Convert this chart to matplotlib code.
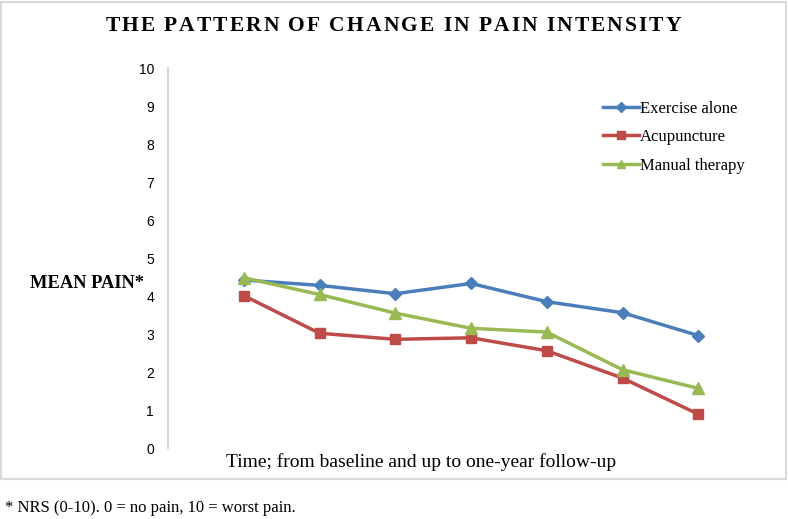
import matplotlib
matplotlib.use("Agg")
import matplotlib.pyplot as plt
from matplotlib.patches import Rectangle

# Data (NRS mean pain at 7 time points)
TIME_POINTS = [1, 2, 3, 4, 5, 6, 7]
EXERCISE = [4.42, 4.28, 4.06, 4.33, 3.85, 3.56, 2.96]
ACUPUNCTURE = [4.01, 3.02, 2.86, 2.90, 2.56, 1.84, 0.89]
MANUAL = [4.48, 4.04, 3.55, 3.15, 3.05, 2.06, 1.57]
SERIES_NAMES = ["Exercise alone", "Acupuncture", "Manual therapy"]
Y_TICKS = list(range(0, 11))
TITLE = "THE PATTERN OF CHANGE IN PAIN INTENSITY"

BLUE = "#4a7ebb"
RED = "#be4b48"
GREEN = "#98b954"
SERIF = "Liberation Serif"
SANS = "Liberation Sans"

fig = plt.figure(figsize=(7.88, 5.19), dpi=100)
ax = fig.add_axes([168 / 788, 1 - 448 / 519, 606 / 788, 380 / 519])

# light grey frame around the chart area
fig.patches.append(Rectangle((1 / 788, 1 - 479 / 519), 785 / 788, 477 / 519,
                             transform=fig.transFigure, fill=False,
                             edgecolor="#d9d9d9", linewidth=1.5))

ax.plot(TIME_POINTS, EXERCISE, color=BLUE, lw=2.5, marker="D", ms=6,
        label=SERIES_NAMES[0])
ax.plot(TIME_POINTS, ACUPUNCTURE, color=RED, lw=2.5, marker="s", ms=7,
        label=SERIES_NAMES[1])
ax.plot(TIME_POINTS, MANUAL, color=GREEN, lw=2.5, marker="^", ms=8,
        label=SERIES_NAMES[2])

ax.set_xlim(0, 8)
ax.set_ylim(0, 10)
ax.set_yticks(Y_TICKS)
ax.set_xticks([])
for lab in ax.get_yticklabels():
    lab.set_fontfamily(SANS)
    lab.set_fontsize(10)
ax.tick_params(axis="y", length=0, pad=10, colors="#000000")
for side in ["top", "right", "bottom"]:
    ax.spines[side].set_visible(False)
ax.spines["left"].set_color("#d9d9d9")
ax.spines["left"].set_linewidth(1.5)

leg = ax.legend(loc="upper left", frameon=False,
                prop={"family": SERIF, "size": 12},
                handlelength=2.2, handletextpad=0.05, labelspacing=0.75,
                borderaxespad=0, markerscale=0.8)
leg.set_bbox_to_anchor((596 / 788, 1 - 94 / 519), transform=fig.transFigure)

# title drawn letter by letter to get the wide letter spacing
fig.canvas.draw()
renderer = fig.canvas.get_renderer()
title_parts = []
for ch in TITLE:
    t = fig.text(0, 1 - 26 / 519, ch, ha="left", va="center", fontsize=15.5,
                 fontweight="bold", family=SERIF)
    title_parts.append(t)
gap = 2.0
widths = []
for t in title_parts:
    bb = t.get_window_extent(renderer)
    widths.append(bb.width if t.get_text() != " " else 5.5)
total = sum(widths) + gap * (len(widths) - 1)
x = 393 - total / 2
for t, w in zip(title_parts, widths):
    t.set_x(x / 788)
    x += w + gap

fig.text(30 / 788, 1 - 283 / 519, "MEAN PAIN*", ha="left", va="center",
         fontsize=13.3, fontweight="bold", family=SERIF)
fig.text(421 / 788, 1 - 462 / 519,
         "Time; from baseline and up to one-year follow-up",
         ha="center", va="center", fontsize=14, family=SERIF)
fig.text(5 / 788, 1 - 508 / 519, "* NRS (0-10). 0 = no pain, 10 = worst pain.",
         ha="left", va="center", fontsize=12, family=SERIF)

fig.savefig("out.png", dpi=100, facecolor="white")
